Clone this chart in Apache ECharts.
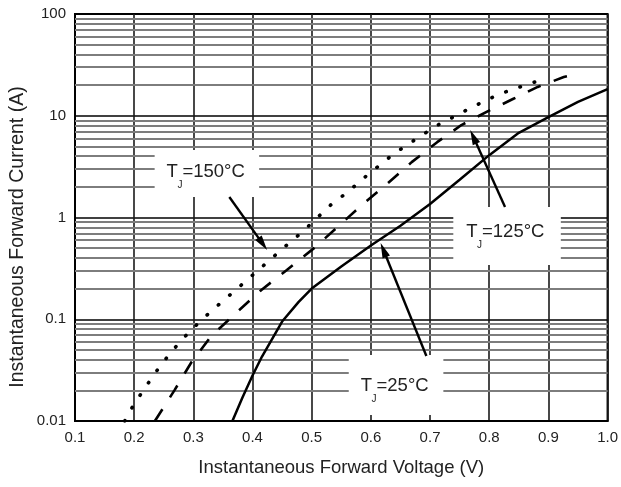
<!DOCTYPE html>
<html><head><meta charset="utf-8">
<script src="https://cdn.jsdelivr.net/npm/echarts@6/dist/echarts.min.js"></script>
<style>html,body{margin:0;padding:0;background:#fff}#c{width:621px;height:487px}</style>
</head><body><div id="c"></div>
<script>
// ---- data ----
const xTickLabels = ['0.1','0.2','0.3','0.4','0.5','0.6','0.7','0.8','0.9','1.0'];
const yTickLabels = ['0.01','0.1','1','10','100'];
const minorMultipliers = [2,3,4,5,6,7,8,9];
const decades = [0.01,0.1,1,10];

const v25 = [0.366,0.383,0.400,0.416,0.450,0.478,0.500,0.550,0.600,0.650,0.700,0.750,0.800,0.850,0.900,0.950,1.000];
const i25 = [0.010,0.017,0.028,0.043,0.095,0.148,0.200,0.330,0.530,0.830,1.360,2.350,4.100,6.800,9.700,13.70,18.30];

const v125 = [0.235,0.268,0.297,0.330,0.374,0.415,0.458,0.504,0.542,0.583,0.627,0.669,0.712,0.753,0.798,0.840,0.882,0.926,0.938];
const i125 = [0.010,0.020,0.038,0.068,0.118,0.194,0.305,0.500,0.790,1.300,2.130,3.500,5.500,8.100,11.10,14.60,19.20,24.00,25.00];

const v150 = [0.184,0.199,0.218,0.236,0.256,0.280,0.305,0.330,0.356,0.381,0.406,0.433,0.458,0.484,0.509,0.534,0.561,0.586,0.613,0.638,0.664,0.689,0.716,0.743,0.768,0.793,0.818,0.845,0.871,0.896];
const i150 = [0.010,0.0144,0.021,0.030,0.0426,0.0625,0.0877,0.120,0.162,0.217,0.291,0.400,0.537,0.720,0.990,1.360,1.780,2.390,3.200,4.200,5.300,6.600,8.300,9.950,11.90,14.00,16.40,18.60,20.90,23.40];

const labelMain = ['T','T','T'];
const labelSub = ['J','J','J'];
const labelRest = ['=150°C','=125°C','=25°C'];
const xTitle = 'Instantaneous Forward Voltage (V)';
const yTitle = 'Instantaneous Forward Current (A)';

// annotation placement (in data coordinates)
const annotations = [
  {box:[0.2346,4.6,0.4112,1.59], text:[0.2548,2.8], from:[0.3608,1.59], to:[0.4247,0.48]},
  {box:[0.7393,1.27,0.9210,0.341], text:[0.7611,0.72], from:[0.8267,1.27], to:[0.7679,7.24]},
  {box:[0.5626,0.0445,0.7225,0.01146], text:[0.5828,0.0221], from:[0.6938,0.0435], to:[0.6165,0.5615]}
];

const FONT = '"Liberation Sans", Arial, sans-serif';
const zip = (a,b) => a.map((v,k)=>[v,b[k]]);
const minorLines = [];
decades.forEach(d => minorMultipliers.forEach(m => minorLines.push({yAxis: +(d*m).toPrecision(3)})));

const chart = echarts.init(document.getElementById('c'), null, {renderer:'canvas'});
chart.setOption({
  animation:false,
  backgroundColor:'#fff',
  grid:{left:75,right:11,top:14,bottom:66,show:true,borderColor:'#000',borderWidth:2,backgroundColor:'transparent'},
  xAxis:{type:'value',min:0.1,max:1.0,interval:0.1,
    axisLine:{show:true,lineStyle:{color:'#000',width:2}},
    axisTick:{show:false},
    splitLine:{show:true,lineStyle:{color:'#1a1a1a',width:1.6}},
    axisLabel:{margin:9,fontSize:15,color:'#222',fontFamily:FONT,
      formatter:v=>xTickLabels[Math.round(v*10)-1]},
    name:xTitle,nameLocation:'middle',nameGap:37,
    nameTextStyle:{fontSize:18.5,color:'#222',fontFamily:FONT}},
  yAxis:{type:'log',logBase:10,min:0.01,max:100,
    axisLine:{show:true,lineStyle:{color:'#000',width:2}},
    axisTick:{show:false},
    splitLine:{show:true,lineStyle:{color:'#000',width:1.6}},
    axisLabel:{margin:9,fontSize:15,color:'#222',fontFamily:FONT,
      formatter:v=>yTickLabels[Math.round(Math.log10(v))+2]}},
  series:[
    {type:'line',data:[],z:1,silent:true,
      markLine:{silent:true,symbol:['none','none'],label:{show:false},animation:false,
        lineStyle:{color:'#7d7d7d',width:2,type:'solid'},emphasis:{disabled:true},data:minorLines}},
    {name:'25',type:'line',data:zip(v25,i25),showSymbol:false,z:5,
      lineStyle:{color:'#000',width:2.5}},
    {name:'125',type:'line',data:zip(v125,i125),showSymbol:false,z:5,
      lineStyle:{color:'#000',width:2.6,type:[14,14]}},
    {name:'150',type:'line',data:zip(v150,i150),showSymbol:false,z:5,
      lineStyle:{color:'#000',width:3.6,type:[0.5,14.5],cap:'round'}}
  ]
});

// annotations
const cv = document.createElement('canvas').getContext('2d');
function tw(s,size){cv.font = size+'px "Liberation Sans"'; return cv.measureText(s).width;}
const px = p => chart.convertToPixel({gridIndex:0}, p);
const g = [];
// y-axis title, placed beside the axis
g.push({type:'text',z:102,x:17.5,y:237,rotation:Math.PI/2,
  style:{text:yTitle,font:'19.5px '+FONT,fill:'#222',align:'center',verticalAlign:'middle'}});
annotations.forEach((a,k) => {
  const p1 = px([a.box[0],a.box[1]]), p2 = px([a.box[2],a.box[3]]);
  g.push({type:'rect',z:100,shape:{x:p1[0],y:p1[1],width:p2[0]-p1[0],height:p2[1]-p1[1]},style:{fill:'#fff'}});
  const t = px(a.text);
  const fs = 18.5, fsSub = 10;
  const wT = tw(labelMain[k],fs), wJ = tw(labelSub[k],fsSub);
  g.push({type:'text',z:102,x:t[0],y:t[1],style:{text:labelMain[k],font:fs+'px '+FONT,fill:'#222',verticalAlign:'middle',align:'left'}});
  g.push({type:'text',z:102,x:t[0]+wT-0.5,y:t[1]+13,style:{text:labelSub[k],font:fsSub+'px '+FONT,fill:'#222',verticalAlign:'middle',align:'left'}});
  g.push({type:'text',z:102,x:t[0]+wT+wJ-0.5,y:t[1],style:{text:labelRest[k],font:fs+'px '+FONT,fill:'#222',verticalAlign:'middle',align:'left'}});
  const f = px(a.from), e = px(a.to);
  const dx = e[0]-f[0], dy = e[1]-f[1], L = Math.hypot(dx,dy), ux = dx/L, uy = dy/L;
  const hl = 15, hw = 4;
  const bx = e[0]-ux*hl, by = e[1]-uy*hl;
  g.push({type:'line',z:103,shape:{x1:f[0],y1:f[1],x2:bx+ux*2,y2:by+uy*2},style:{stroke:'#000',lineWidth:2.4}});
  g.push({type:'polygon',z:103,shape:{points:[[e[0],e[1]],[bx-uy*hw,by+ux*hw],[bx+uy*hw,by-ux*hw]]},style:{fill:'#000'}});
});
chart.setOption({graphic:g});
</script>
</body></html>
